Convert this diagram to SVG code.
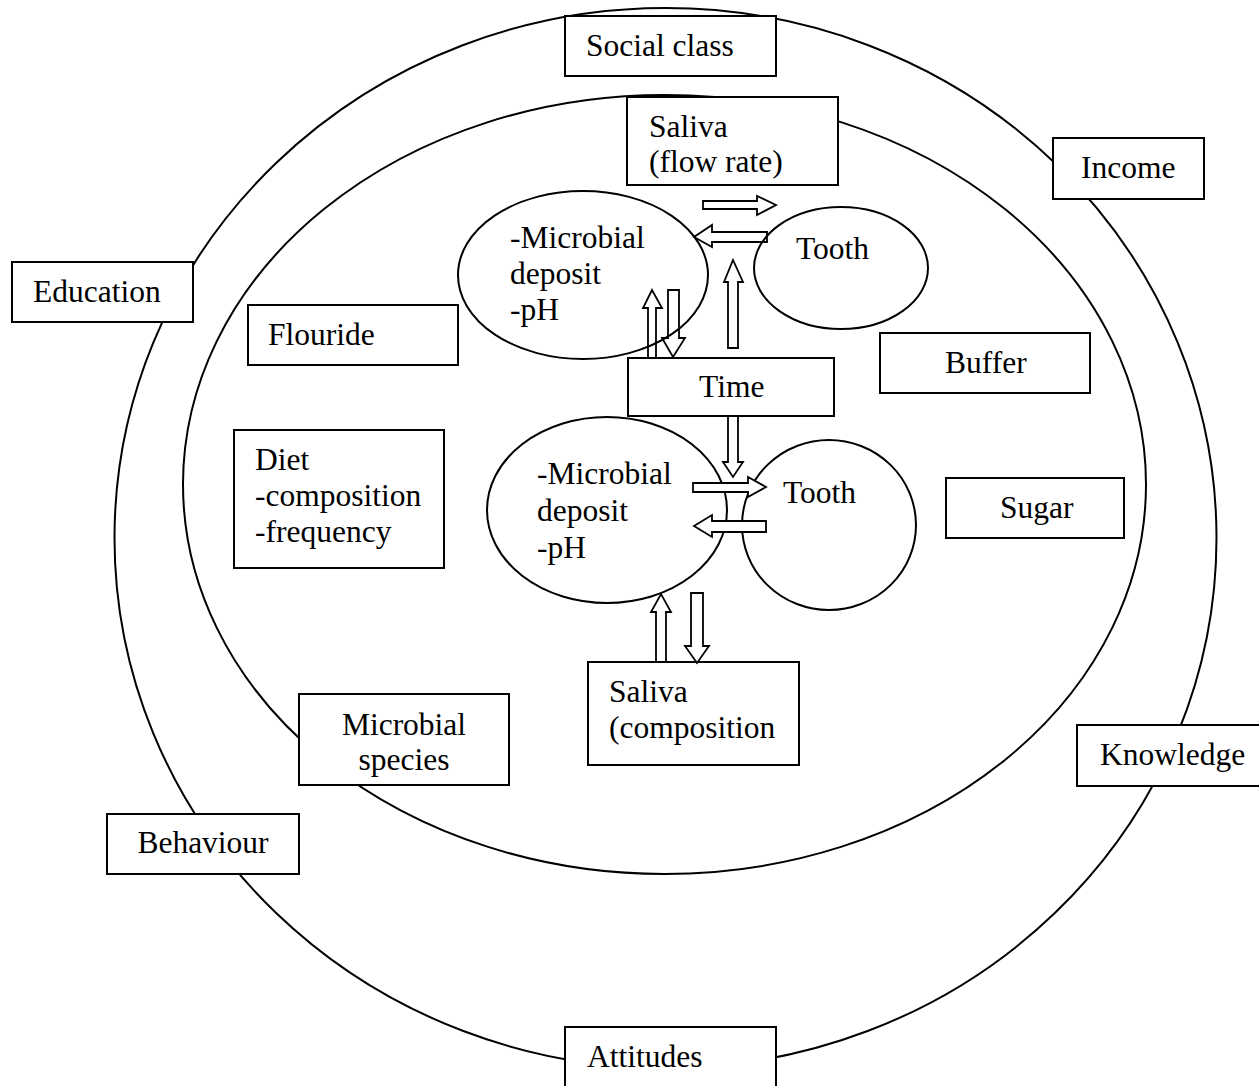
<svg xmlns="http://www.w3.org/2000/svg" width="1259" height="1086" viewBox="0 0 1259 1086">
<style>
.ring{fill:none;stroke:#000;stroke-width:2}
.ell{fill:#fff;stroke:#000;stroke-width:2}
.box{fill:#fff;stroke:#000;stroke-width:2}
.t{font-family:"Liberation Serif","Times New Roman",serif;font-size:31.5px;fill:#000}
.arr{fill:none;stroke:#000;stroke-width:1.8;stroke-linejoin:miter}
.arrw{fill:#fff;stroke:#000;stroke-width:1.8;stroke-linejoin:miter}
</style>
<rect width="1259" height="1086" fill="#fff"/>
<g id="rings">
<ellipse class="ring" cx="665.5" cy="538" rx="551" ry="530"/>
<ellipse class="ring" cx="664.5" cy="484.5" rx="481.5" ry="389.5"/>
</g>
<g id="deposit-top"><ellipse class="ell" cx="583" cy="275" rx="125" ry="84"/>
<text class="t" x="510" y="248">-Microbial</text><text class="t" x="510" y="284">deposit</text><text class="t" x="510" y="320">-pH</text></g>
<g id="tooth-top"><ellipse class="ell" cx="841" cy="268" rx="87" ry="61"/>
<text class="t" x="796" y="259">Tooth</text></g>
<g id="deposit-bottom"><ellipse class="ell" cx="607" cy="510" rx="120" ry="93"/>
<text class="t" x="537" y="484">-Microbial</text><text class="t" x="537" y="521">deposit</text><text class="t" x="537" y="558">-pH</text></g>
<g id="tooth-bottom"><ellipse class="ell" cx="829" cy="525" rx="87" ry="85" style="fill:none"/>
<text class="t" x="783" y="503">Tooth</text></g>
<g id="social-class"><rect class="box" x="565" y="16" width="211" height="60"/><text class="t" x="586" y="56">Social class</text></g>
<g id="saliva-flow"><rect class="box" x="627" y="97" width="211" height="88"/><text class="t" x="649" y="137">Saliva</text><text class="t" x="649" y="172">(flow rate)</text></g>
<g id="income"><rect class="box" x="1053" y="138" width="151" height="61"/><text class="t" x="1081" y="178">Income</text></g>
<g id="education"><rect class="box" x="12" y="262" width="181" height="60"/><text class="t" x="33" y="302">Education</text></g>
<g id="flouride"><rect class="box" x="248" y="305" width="210" height="60"/><text class="t" x="268" y="345">Flouride</text></g>
<g id="time"><rect class="box" x="628" y="358" width="206" height="58"/><text class="t" x="699" y="397">Time</text></g>
<g id="buffer"><rect class="box" x="880" y="333" width="210" height="60"/><text class="t" x="945" y="373">Buffer</text></g>
<g id="diet"><rect class="box" x="234" y="430" width="210" height="138"/><text class="t" x="255" y="470">Diet</text><text class="t" x="255" y="506">-composition</text><text class="t" x="255" y="542">-frequency</text></g>
<g id="sugar"><rect class="box" x="946" y="478" width="178" height="60"/><text class="t" x="1000" y="518">Sugar</text></g>
<g id="saliva-composition"><rect class="box" x="588" y="662" width="211" height="103"/><text class="t" x="609" y="702">Saliva</text><text class="t" x="609" y="738">(composition</text></g>
<g id="microbial-species"><rect class="box" x="299" y="694" width="210" height="91"/><text class="t" x="404" y="735" text-anchor="middle">Microbial</text><text class="t" x="404" y="770" text-anchor="middle">species</text></g>
<g id="knowledge"><rect class="box" x="1077" y="725" width="185" height="61"/><text class="t" x="1100" y="765">Knowledge</text></g>
<g id="behaviour"><rect class="box" x="107" y="814" width="192" height="60"/><text class="t" x="203" y="853" text-anchor="middle">Behaviour</text></g>
<g id="attitudes"><rect class="box" x="565" y="1027" width="211" height="70"/><text class="t" x="587" y="1067">Attitudes</text></g>
<g id="connectors">
<!-- top group -->
<path class="arrw" d="M703,201 H757 V196 L776,205 L757,215 V209 H703 Z"/>
<path class="arr" d="M767,232 H712 V225 L694,237 L712,247 V242 H767 Z"/>
<path class="arrw" d="M728,348 V282 H724 L733,260 L743,282 H738 V348 Z"/>
<path class="arr" d="M648,358 V308 H643 L652,290 L662,308 H656 V358 Z"/>
<path class="arr" d="M668,290 H679 V338 H685 L673,357 L662,338 H668 Z"/>
<!-- bottom group -->
<path class="arrw" d="M728,416 H738 V462 H743 L733,477 L723,462 H728 Z"/>
<path class="arrw" d="M693,483 H748 V477 L766,487 L748,497 V492 H693 Z"/>
<path class="arrw" d="M766,521 H712 V515 L694,526 L712,537 V532 H766 Z"/>
<path class="arrw" d="M656,662 V612 H651 L661,594 L671,612 H666 V662 Z"/>
<path class="arrw" d="M691,593 H703 V646 H709 L697,663 L685,646 H691 Z"/>
</g>
</svg>
